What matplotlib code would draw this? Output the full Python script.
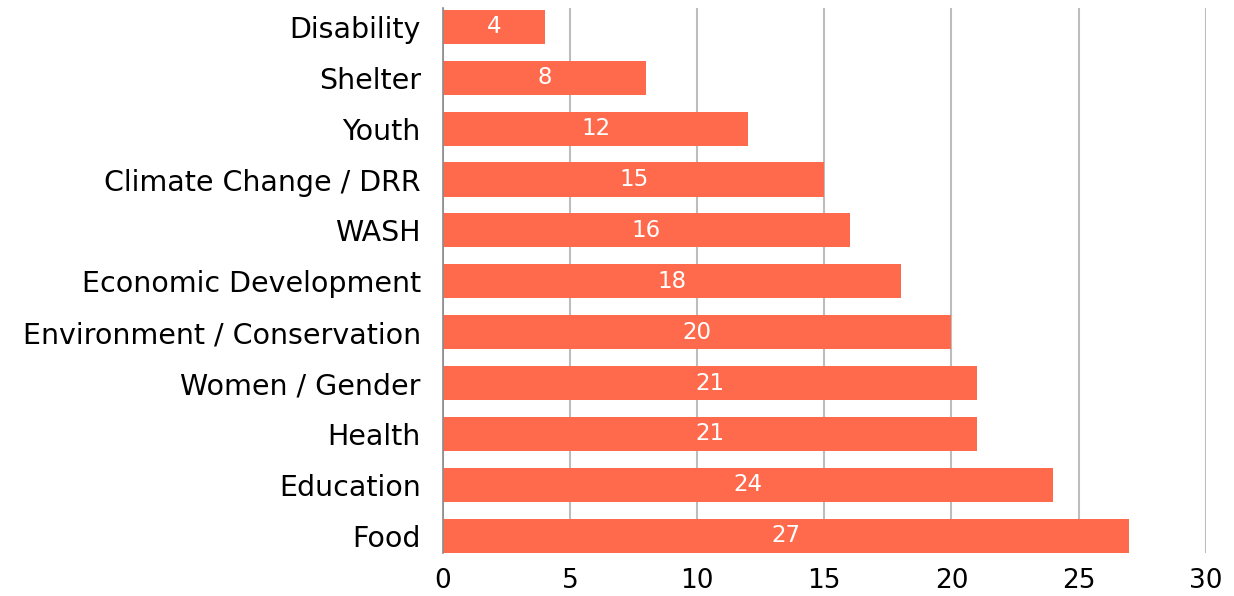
import matplotlib
matplotlib.use("Agg")
import matplotlib.pyplot as plt

categories = ["Disability", "Shelter", "Youth", "Climate Change / DRR", "WASH",
              "Economic Development", "Environment / Conservation", "Women / Gender",
              "Health", "Education", "Food"]
values = [4, 8, 12, 15, 16, 18, 20, 21, 21, 24, 27]
xticks = [0, 5, 10, 15, 20, 25, 30]

plt.rcParams['font.family'] = ['DejaVu Sans']
fig = plt.figure(figsize=(12.34, 5.96), dpi=100)
ax = fig.add_axes([0.359, 0.072, 0.977 - 0.359, 0.9866 - 0.072])

n = len(categories)
ypos = [n - 1 - i for i in range(n)]
bars = ax.barh(ypos, values, height=0.67, color="#FF6A4D", zorder=3)
for y, v in zip(ypos, values):
    ax.text(v / 2, y, str(v), color="white", ha="center", va="center", fontsize=16.5, zorder=4)

ax.set_yticks(ypos)
ax.set_yticklabels(categories, fontsize=20.5)
ax.set_xticks(xticks)
ax.set_xticklabels([str(t) for t in xticks], fontsize=19)
ax.set_xlim(0, 30)
ax.set_ylim(-0.34, n - 1 + 0.37)
ax.tick_params(axis="y", length=0, pad=16)
ax.tick_params(axis="x", length=0, pad=11)
ax.grid(axis="x", color="#BDBDBD", linewidth=1.5, zorder=0)
for s in ["top", "right", "bottom"]:
    ax.spines[s].set_visible(False)
ax.spines["left"].set_color("#8a8a8a")
ax.spines["left"].set_linewidth(1.2)
ax.spines["left"].set_zorder(5)
fig.savefig("out.png", dpi=100)
